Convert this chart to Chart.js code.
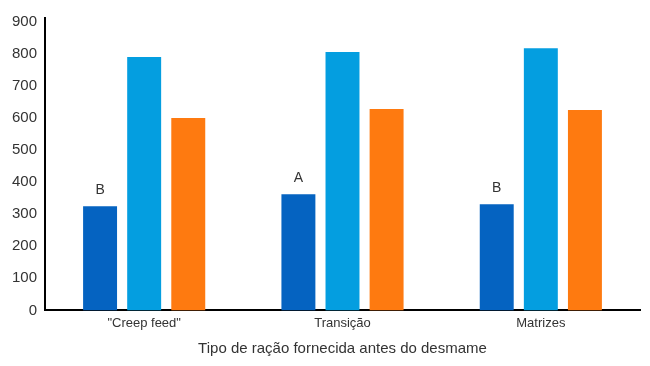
<!DOCTYPE html>
<html><head><meta charset="utf-8">
<script src="https://cdn.jsdelivr.net/npm/chart.js@4/dist/chart.umd.min.js"></script>
<style>html,body{margin:0;padding:0;background:#fff}#w{width:650px;height:366px}</style>
</head><body><div id="w"><canvas id="c"></canvas></div>
<script>
const categories = ['"Creep feed"', 'Transição', 'Matrizes'];
const seriesDark = [325, 362, 331];
const seriesLight = [790, 806, 818];
const seriesOrange = [600, 628, 625];
const letters = ['B', 'A', 'B'];
const yTicks = [0,100,200,300,400,500,600,700,800,900];

const letterPlugin = {
  id: 'letters',
  afterDatasetsDraw(chart) {
    const ctx = chart.ctx;
    const meta = chart.getDatasetMeta(0);
    ctx.save();
    ctx.font = '14px "Liberation Sans", Arial, sans-serif';
    ctx.fillStyle = '#333';
    ctx.textAlign = 'center';
    ctx.textBaseline = 'bottom';
    meta.data.forEach((bar, i) => {
      ctx.fillText(letters[i], bar.x, bar.y - 9);
    });
    ctx.restore();
  }
};

new Chart(document.getElementById('c'), {
  type: 'bar',
  data: {
    labels: categories,
    datasets: [
      {data: seriesDark, backgroundColor: '#0563c1'},
      {data: seriesLight, backgroundColor: '#049ee0'},
      {data: seriesOrange, backgroundColor: '#fe7a10'}
    ]
  },
  options: {
    responsive: true, maintainAspectRatio: false, animation: false,
    layout: {padding: {top: 18, right: 10, left: 0, bottom: 8}},
    datasets: {bar: {categoryPercentage: 0.667, barPercentage: 0.77}},
    plugins: {legend: {display: false}, tooltip: {enabled: false}},
    scales: {
      x: {
        grid: {display: false, drawTicks: false},
        border: {color: '#000', width: 2},
        ticks: {color: '#333', font: {family: '"Liberation Sans", Arial, sans-serif', size: 13}, padding: 5},
        title: {display: true, text: 'Tipo de ração fornecida antes do desmame', color: '#333',
                font: {family: '"Liberation Sans", Arial, sans-serif', size: 15}, padding: {top: 4, bottom: 0}}
      },
      y: {
        min: 0, max: 912,
        afterBuildTicks(s) { s.ticks = yTicks.map(v => ({value: v})); },
        afterFit(s) { s.width = 45; },
        grid: {display: false, drawTicks: false},
        border: {color: '#000', width: 2},
        ticks: {color: '#333', font: {family: '"Liberation Sans", Arial, sans-serif', size: 15}, padding: 8}
      }
    }
  },
  plugins: [letterPlugin]
});
</script></body></html>
